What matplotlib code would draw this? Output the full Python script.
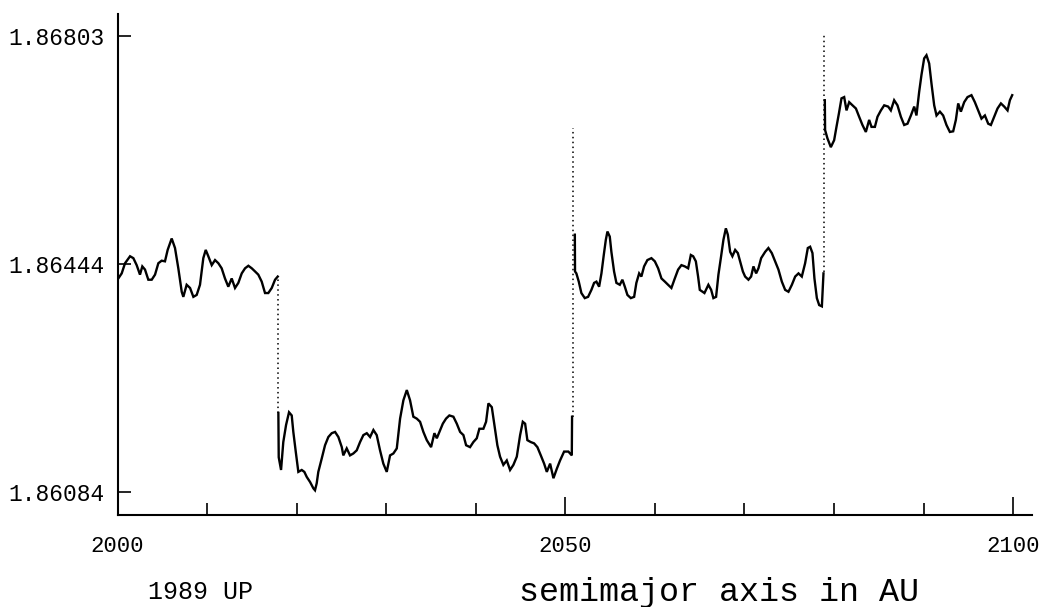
import matplotlib.pyplot as plt

# Semimajor axis of 1989 UP, 2000-2100, in four stretches between jumps
seg1_years = [2000.09, 2000.47, 2000.84, 2001.40, 2001.77, 2002.14, 2002.51, 2002.77, 2003.07, 2003.44,
              2003.82, 2004.19, 2004.56, 2004.93, 2005.30, 2005.60, 2006.05, 2006.42, 2006.79, 2007.17,
              2007.35, 2007.72, 2008.10, 2008.47, 2008.84, 2009.21, 2009.58, 2009.85, 2010.14, 2010.52,
              2010.89, 2011.26, 2011.63, 2012.00, 2012.37, 2012.75, 2013.12, 2013.49, 2013.87, 2014.24,
              2014.61, 2014.99, 2015.36, 2015.72, 2016.10, 2016.47, 2016.84, 2017.22, 2017.59, 2017.89]
seg1_a = [1.86421, 1.86429, 1.86445, 1.86456, 1.86453, 1.86442, 1.86427, 1.86440, 1.86435, 1.86419,
          1.86419, 1.86427, 1.86445, 1.86449, 1.86448, 1.86466, 1.86484, 1.86469, 1.86437, 1.86400,
          1.86392, 1.86411, 1.86406, 1.86392, 1.86395, 1.86411, 1.86453, 1.86466, 1.86456, 1.86442,
          1.86450, 1.86445, 1.86437, 1.86421, 1.86408, 1.86421, 1.86406, 1.86414, 1.86429, 1.86437,
          1.86441, 1.86437, 1.86432, 1.86427, 1.86416, 1.86398, 1.86398, 1.86406, 1.86419, 1.86424]

seg2_years = [2017.96, 2018.00, 2018.26, 2018.51, 2018.82, 2019.15, 2019.45, 2019.63, 2019.90, 2020.19,
              2020.57, 2020.86, 2021.13, 2021.50, 2021.87, 2022.05, 2022.24, 2022.42, 2022.80, 2023.17,
              2023.54, 2023.92, 2024.29, 2024.66, 2025.04, 2025.21, 2025.59, 2025.96, 2026.33, 2026.71,
              2027.08, 2027.45, 2027.83, 2028.20, 2028.57, 2028.94, 2029.31, 2029.68, 2030.06, 2030.43,
              2030.80, 2031.18, 2031.55, 2031.92, 2032.30, 2032.66, 2033.03, 2033.41, 2033.78, 2034.15,
              2034.53, 2035.01, 2035.38, 2035.65, 2035.94, 2036.32, 2036.68, 2037.05, 2037.50, 2037.88,
              2038.25, 2038.62, 2038.92, 2039.36, 2039.73, 2040.11, 2040.40, 2040.85, 2041.15, 2041.41,
              2041.79, 2042.08, 2042.41, 2042.71, 2043.08, 2043.46, 2043.83, 2044.20, 2044.58, 2044.95,
              2045.25, 2045.51, 2045.76, 2046.14, 2046.51, 2046.88, 2047.26, 2047.63, 2047.93, 2048.30,
              2048.67, 2049.05, 2049.41, 2049.86, 2050.34, 2050.72, 2050.75]
seg2_a = [1.86209, 1.86139, 1.86119, 1.86163, 1.86190, 1.86210, 1.86205, 1.86179, 1.86148, 1.86116,
          1.86119, 1.86116, 1.86108, 1.86100, 1.86090, 1.86087, 1.86098, 1.86116, 1.86137, 1.86158,
          1.86171, 1.86177, 1.86179, 1.86171, 1.86155, 1.86142, 1.86153, 1.86142, 1.86145, 1.86150,
          1.86163, 1.86174, 1.86177, 1.86171, 1.86182, 1.86174, 1.86150, 1.86129, 1.86116, 1.86142,
          1.86145, 1.86153, 1.86200, 1.86229, 1.86245, 1.86229, 1.86203, 1.86200, 1.86195, 1.86179,
          1.86166, 1.86155, 1.86177, 1.86169, 1.86179, 1.86192, 1.86200, 1.86205, 1.86203, 1.86192,
          1.86179, 1.86174, 1.86158, 1.86155, 1.86163, 1.86169, 1.86184, 1.86184, 1.86195, 1.86224,
          1.86218, 1.86190, 1.86158, 1.86140, 1.86127, 1.86134, 1.86119, 1.86127, 1.86140, 1.86174,
          1.86195, 1.86192, 1.86166, 1.86163, 1.86161, 1.86155, 1.86142, 1.86129, 1.86116, 1.86129,
          1.86106, 1.86121, 1.86134, 1.86148, 1.86148, 1.86142, 1.86203]

seg3_years = [2051.06, 2051.08, 2051.23, 2051.50, 2051.79, 2052.17, 2052.54, 2052.91, 2053.21, 2053.47,
              2053.77, 2054.03, 2054.29, 2054.52, 2054.70, 2054.96, 2055.14, 2055.44, 2055.70, 2056.08,
              2056.37, 2056.64, 2056.93, 2057.31, 2057.68, 2057.93, 2058.24, 2058.49, 2058.79, 2059.16,
              2059.61, 2059.99, 2060.36, 2060.73, 2061.11, 2061.47, 2061.84, 2062.22, 2062.59, 2062.96,
              2063.34, 2063.71, 2064.01, 2064.27, 2064.57, 2064.82, 2065.01,
              2065.53, 2065.97, 2066.28, 2066.53, 2066.83, 2067.09, 2067.39, 2067.65, 2067.92, 2068.14,
              2068.40, 2068.65, 2068.96, 2069.26, 2069.51, 2069.82, 2070.07, 2070.44, 2070.74, 2071.00,
              2071.30, 2071.56, 2071.86, 2072.31, 2072.67, 2073.05, 2073.42, 2073.79, 2074.17, 2074.54,
              2074.91, 2075.29, 2075.66, 2076.03, 2076.40, 2076.77, 2077.07, 2077.33, 2077.59, 2077.81,
              2078.08, 2078.34, 2078.64, 2078.82]
seg3_a = [1.86490, 1.86432, 1.86429, 1.86416, 1.86398, 1.86390, 1.86392, 1.86403, 1.86414, 1.86416,
          1.86408, 1.86429, 1.86458, 1.86482, 1.86495, 1.86487, 1.86463, 1.86432, 1.86414, 1.86411,
          1.86419, 1.86408, 1.86395, 1.86390, 1.86392, 1.86414, 1.86429, 1.86424, 1.86440, 1.86450,
          1.86453, 1.86448, 1.86437, 1.86421, 1.86416, 1.86411, 1.86406, 1.86421, 1.86435, 1.86442,
          1.86440, 1.86437, 1.86458, 1.86456, 1.86448, 1.86424, 1.86403,
          1.86398, 1.86411, 1.86403, 1.86390, 1.86392, 1.86427, 1.86456, 1.86482, 1.86500, 1.86490,
          1.86463, 1.86456, 1.86466, 1.86461, 1.86448, 1.86432, 1.86424, 1.86419, 1.86424, 1.86440,
          1.86429, 1.86437, 1.86453, 1.86463, 1.86469, 1.86461, 1.86448, 1.86435, 1.86416, 1.86403,
          1.86400, 1.86411, 1.86424, 1.86429, 1.86424, 1.86445, 1.86469, 1.86471, 1.86461, 1.86421,
          1.86390, 1.86379, 1.86377, 1.86429]

seg4_years = [2078.97, 2079.00, 2079.26, 2079.64, 2080.01, 2080.27, 2080.54, 2080.83, 2081.13, 2081.39,
              2081.69, 2082.06, 2082.44, 2082.80, 2083.17, 2083.55, 2083.92, 2084.18, 2084.56, 2084.85,
              2085.23, 2085.60, 2086.04, 2086.34, 2086.71, 2087.08, 2087.46, 2087.83, 2088.20, 2088.58,
              2088.95, 2089.20, 2089.50, 2089.76, 2090.06, 2090.32, 2090.62, 2090.88, 2091.18, 2091.44,
              2091.82, 2092.18, 2092.55, 2092.93, 2093.30, 2093.60, 2093.86, 2094.16, 2094.53, 2094.90,
              2095.34, 2095.72, 2096.09, 2096.46, 2096.84, 2097.21, 2097.51, 2097.88, 2098.25, 2098.63,
              2099.00, 2099.37, 2099.63, 2099.89]
seg4_a = [1.86702, 1.86655, 1.86642, 1.86628, 1.86639, 1.86660, 1.86681, 1.86705, 1.86707, 1.86686,
          1.86699, 1.86694, 1.86689, 1.86676, 1.86663, 1.86652, 1.86671, 1.86660, 1.86660, 1.86676,
          1.86686, 1.86694, 1.86692, 1.86686, 1.86702, 1.86694, 1.86676, 1.86663, 1.86665, 1.86678,
          1.86692, 1.86678, 1.86715, 1.86742, 1.86768, 1.86773, 1.86760, 1.86728, 1.86694, 1.86678,
          1.86684, 1.86678, 1.86663, 1.86652, 1.86653, 1.86671, 1.86697, 1.86684, 1.86699, 1.86707,
          1.86710, 1.86699, 1.86686, 1.86673, 1.86678, 1.86665, 1.86663, 1.86676, 1.86689, 1.86697,
          1.86692, 1.86686, 1.86702, 1.86710]

# Sparse samples across each resonance jump, drawn dotted
jump_years = [2017.93, 2050.90, 2078.89]
jump_low = [1.86209, 1.86202, 1.86431]
jump_high = [1.86424, 1.86658, 1.86808]

y_ticks = [1.86084, 1.86444, 1.86803]
y_labels = ['1.86084', '1.86444', '1.86803']
x_major = [2000, 2050, 2100]
x_minor = [2010, 2020, 2030, 2040, 2060, 2070, 2080, 2090]

FONT = 'Liberation Mono'

fig = plt.figure(figsize=(10.44, 6.07), dpi=100)
ax = fig.add_axes([117.5 / 1044, 92 / 607, 914.5 / 1044, 501 / 607])

for yrs, a in [(seg1_years, seg1_a), (seg2_years, seg2_a),
               (seg3_years, seg3_a), (seg4_years, seg4_a)]:
    ax.plot(yrs, a, color='black', lw=1.7, solid_joinstyle='miter')

for yr, lo, hi in zip(jump_years, jump_low, jump_high):
    ax.plot([yr, yr], [lo, hi], color='black', lw=1.1, linestyle=(0, (1.0, 2.2)))

ax.set_xlim(2000, 2102.1)
ax.set_ylim(1.86048, 1.86838)

for side in ['top', 'right']:
    ax.spines[side].set_visible(False)
for side in ['left', 'bottom']:
    ax.spines[side].set_linewidth(1.5)

ax.set_yticks(y_ticks)
ax.set_yticklabels(y_labels, fontfamily=FONT, fontsize=16.5)
ax.set_xticks(x_major)
ax.set_xticklabels([str(x) for x in x_major], fontfamily=FONT, fontsize=16)
ax.set_xticks(x_minor, minor=True)
ax.tick_params(axis='y', direction='in', length=9, width=1.2, pad=9)
ax.tick_params(axis='x', which='major', direction='in', length=13, width=1.2, pad=15)
ax.tick_params(axis='x', which='minor', direction='in', length=8.6, width=1.2)

fig.text(148 / 1044, 1 - 592 / 607, '1989 UP', fontfamily=FONT, fontsize=18,
         ha='left', va='center')
fig.text(519 / 1044, 1 - 592 / 607, 'semimajor axis in AU', fontfamily=FONT, fontsize=24,
         ha='left', va='center')

fig.savefig('out.png', dpi=100)
